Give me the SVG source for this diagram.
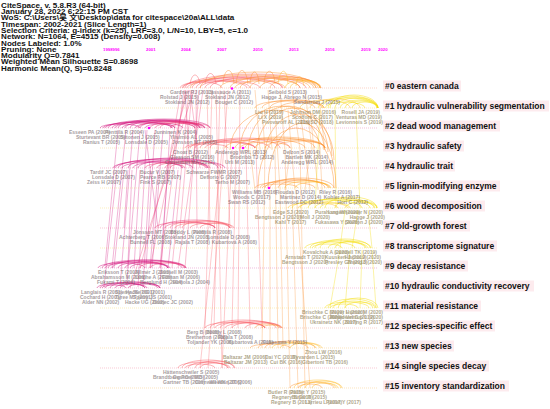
<svg xmlns="http://www.w3.org/2000/svg" width="550" height="409" viewBox="0 0 550 409">
<style>
.h{font:bold 7.2px 'Liberation Sans','Noto Sans CJK SC',Arial,sans-serif;fill:#111}
.yr{font:bold 4.3px 'Liberation Sans',Arial,sans-serif;fill:#ff00ff}
.cl{font:bold 8.5px 'Liberation Sans',Arial,sans-serif;fill:#111}
.bg{fill:#fde6ea;opacity:.8}
.rl{stroke-width:.7;stroke-dasharray:1 1;fill:none}
.a{fill:none;stroke-width:.7;opacity:.65}
.m{stroke:#d2147e}.p{stroke:#ec3470}.r{stroke:#f85a64}.o{stroke:#fd8f2e}.am{stroke:#ffb81e}.yl{stroke:#f3dc00}
.n{font:bold 5px 'Liberation Sans',Arial,sans-serif;fill:#6a5a5e;opacity:.6}
.ny{fill:#7a6c40}
.e{text-anchor:end}
.d{fill:#ff00ff}
</style>
<rect width="550" height="409" fill="#fff"/>

<g id="header" transform="scale(1.12 1)">
<text class="h" x="1" y="7.8">CiteSpace, v. 5.8.R3 (64-bit)</text>
<text class="h" x="1" y="14.1">January 28, 2022 6:22:15 PM CST</text>
<text class="h" x="1" y="20.4">WoS: C:\Users\吴 文\Desktop\data for citespace\20a\ALL\data</text>
<text class="h" x="1" y="26.7">Timespan: 2002-2021 (Slice Length=1)</text>
<text class="h" x="1" y="33">Selection Criteria: g-index (k=25), LRF=3.0, L/N=10, LBY=5, e=1.0</text>
<text class="h" x="1" y="39.3">Network: N=1064, E=4515 (Density=0.008)</text>
<text class="h" x="1" y="45.6">Nodes Labeled: 1.0%</text>
<text class="h" x="1" y="51.9">Pruning: None</text>
<text class="h" x="1" y="58.2">Modularity Q=0.7841</text>
<text class="h" x="1" y="64.5">Weighted Mean Silhouette S=0.8698</text>
<text class="h" x="1" y="70.8">Harmonic Mean(Q, S)=0.8248</text>
</g>

<g id="years">
<text class="yr" x="103" y="51">1998996</text>
<text class="yr" x="146" y="51">2001</text>
<text class="yr" x="181" y="51">2004</text>
<text class="yr" x="217" y="51">2007</text>
<text class="yr" x="253" y="51">2010</text>
<text class="yr" x="289" y="51">2013</text>
<text class="yr" x="325" y="51">2016</text>
<text class="yr" x="361" y="51">2019</text>
<text class="yr" x="378" y="51">2020</text>
</g>

<g id="rows">
<path class="rl" stroke="#f9c0b0" d="M100 88H378"/>
<path class="rl" stroke="#fbe2a0" d="M100 108H378"/>
<path class="rl" stroke="#f2a6c8" d="M100 128H378"/>
<path class="rl" stroke="#f9dca8" d="M100 148H378"/>
<path class="rl" stroke="#f2a8c6" d="M100 168H378"/>
<path class="rl" stroke="#fbe2a0" d="M100 188H378"/>
<path class="rl" stroke="#fbe8a0" d="M100 208H378"/>
<path class="rl" stroke="#f6b2c2" d="M100 228H378"/>
<path class="rl" stroke="#fbe8a0" d="M100 248H378"/>
<path class="rl" stroke="#eaa0d0" d="M100 268H378"/>
<path class="rl" stroke="#f0b0d0" d="M100 288H378"/>
<path class="rl" stroke="#fbe8a0" d="M100 308H378"/>
<path class="rl" stroke="#f8c0b8" d="M100 328H378"/>
<path class="rl" stroke="#fbd8a0" d="M100 348H378"/>
<path class="rl" stroke="#f6b2c2" d="M100 368H378"/>
<path class="rl" stroke="#fbd8a0" d="M100 388H378"/>
</g>

<g id="connectors">
<path class="a m" style="opacity:.45" d="M118 130L105 266M126 130L112 268M133 130L120 286M140 131L128 268M147 130L138 287M155 130L146 268M163 130L152 268M170 131L160 286M117 170L104 287M124 170L114 268M132 170L127 286M140 170L134 268M150 170L143 287M158 170L150 268M168 170L160 268M178 170L168 268M128 170L124 228M145 130L158 228"/>
<path class="a p" style="opacity:.45" d="M181 90L168 168M184 90L160 268M186 90L150 268M189 90L172 268M192 90L180 228M196 90L197 228M199 90L185 268M203 90L178 268M185 90L190 168M190 90L200 168M188 90L140 268M194 90L130 288"/>
<path class="a r" style="opacity:.45" d="M207 90L210 228M212 90L205 328M216 90L222 368M220 90L214 328M224 90L230 228M228 90L208 368M236 150L232 328M246 150L250 328M256 150L262 328M232 150L222 368M222 150L200 368M240 90L238 328"/>
<path class="a o" style="opacity:.45" d="M265 150L262 348M275 150L278 348M285 150L290 388M292 190L298 388M280 190L283 348M300 150L305 388M270 190L270 348M288 110L295 190M275 110L280 190M262 110L265 150M300 110L310 190M310 110L318 190M255 90L260 150M268 90L272 150M280 90L285 150M292 90L300 150M305 90L312 150M318 90L325 150M296 190L310 388M250 150L255 190M290 150L285 190M310 150L305 190M320 150L322 190"/>
<path class="a yl" style="opacity:.5" d="M335 108L336 208M345 210L340 248M358 210L352 248M368 210L372 248M350 250L345 308M362 250L360 308M372 250L376 308M320 110L315 208M356 110L360 208M340 250L330 308"/>
<path class="a r" d="M180 88A40 8 0 0 1 260 88M183 88A50 10 0 0 1 283 88M187 88A30 7 0 0 1 247 88M192 88A45 11 0 0 1 282 88M196 88A55 12 0 0 1 306 88M205 88A35 9 0 0 1 275 88M182 88A20 6 0 0 1 222 88M200 88A25 7 0 0 1 250 88M210 88A45 11 0 0 1 300 88M185 88A68 14 0 0 1 321 88M205 84C207 70 214 70 216 84M190 84C192 72 198 72 200 84"/>
<path class="a o" d="M220 88A40 10 0 0 1 300 88M230 88A45 12 0 0 1 320 88M240 88A35 10 0 0 1 310 88M250 88A35 11 0 0 1 320 88M260 88A28 9 0 0 1 316 88M235 88A25 7 0 0 1 285 88M270 88A24 9 0 0 1 318 88M190 88A62 13 0 0 1 314 88M223 84C224 66 233 66 234 84M236 84C238 66 246 66 248 84M250 84C251 68 258 68 259 84M264 84C265 67 274 67 275 84M200 88A58 16 0 0 1 316 88"/>
<path class="a am" d="M285 88A18 8 0 0 1 321 88M290 88A15 7 0 0 1 320 88M278 84C280 67 287 67 288 84M296 86C297 74 302 74 304 86"/>
<path class="a o" d="M255 108A30 7 0 0 1 315 108M262 108A30 8 0 0 1 322 108M270 108A27 8 0 0 1 324 108M280 108A22 6 0 0 1 324 108"/>
<path class="a am" d="M300 108A25 8 0 0 1 350 108M310 108A25 9 0 0 1 360 108"/>
<path class="a yl" d="M318 108A30 10 0 0 1 378 108M322 108A28 12 0 0 1 378 108M328 108A25 11 0 0 1 378 108M335 108A21 10 0 0 1 377 108M340 108A19 8 0 0 1 378 108M345 108A16 7 0 0 1 377 108M352 108A13 6 0 0 1 378 108M325 108A20 6 0 0 1 365 108M330 108A24 13 0 0 1 378 108"/>
<path class="a m" d="M103 128A40 6 0 0 1 183 128M108 128A45 8 0 0 1 198 128M112 128A30 6 0 0 1 172 128M118 128A46 9 0 0 1 210 128M122 128A25 5 0 0 1 172 128M130 128A35 8 0 0 1 200 128M135 128A20 5 0 0 1 175 128M140 128A30 7 0 0 1 200 128M145 128A15 4 0 0 1 175 128M100 128A20 4 0 0 1 140 128M115 128A40 7 0 0 1 195 128M125 128A40 8 0 0 1 205 128M105 128A50 7 0 0 1 205 128"/>
<path class="a p" d="M150 128A25 6 0 0 1 200 128M155 128A20 5 0 0 1 195 128M160 128A22 6 0 0 1 204 128M138 128A32 7 0 0 1 202 128M170 128A20 5 0 0 1 210 128"/>
<path class="a r" d="M185 148A35 6 0 0 1 255 148M190 148A40 8 0 0 1 270 148M195 148A30 7 0 0 1 255 148M200 148A45 10 0 0 1 290 148M205 148A25 6 0 0 1 255 148M210 148A35 9 0 0 1 280 148M188 148A20 4 0 0 1 228 148"/>
<path class="a o" d="M225 148A40 9 0 0 1 305 148M235 148A45 11 0 0 1 325 148M245 148A35 10 0 0 1 315 148M255 148A35 9 0 0 1 325 148M265 148A30 8 0 0 1 325 148M240 148A25 6 0 0 1 290 148M275 148A25 7 0 0 1 325 148M240 150A42 44 0 0 1 324 150M248 152A40 46 0 0 1 328 152M256 156A38 48 0 0 1 332 156M264 160A35 46 0 0 1 334 160M230 150A45 40 0 0 1 320 150M258 188A38 60 0 0 1 334 188M268 188A34 65 0 0 1 336 188"/>
<path class="a m" d="M113 168A40 7 0 0 1 193 168M118 168A45 9 0 0 1 208 168M122 168A30 6 0 0 1 182 168M128 168A45 10 0 0 1 218 168M133 168A25 6 0 0 1 183 168M138 168A35 8 0 0 1 208 168M115 168A55 9 0 0 1 225 168"/>
<path class="a p" d="M145 168A20 5 0 0 1 185 168M150 168A30 7 0 0 1 210 168M157 168A25 6 0 0 1 207 168M165 168A28 7 0 0 1 221 168M170 168A18 5 0 0 1 206 168"/>
<path class="a o" d="M255 188A30 6 0 0 1 315 188M260 188A35 8 0 0 1 330 188M265 188A30 9 0 0 1 325 188M270 188A32 10 0 0 1 334 188M278 188A25 8 0 0 1 328 188M262 188A18 4 0 0 1 298 188"/>
<path class="a am" d="M285 188A22 7 0 0 1 329 188M295 188A18 6 0 0 1 331 188"/>
<path class="a am" d="M288 208A30 6 0 0 1 348 208M298 208A20 5 0 0 1 338 208"/>
<path class="a yl" d="M292 208A35 8 0 0 1 362 208M300 208A35 9 0 0 1 370 208M308 208A33 10 0 0 1 374 208M315 208A30 8 0 0 1 375 208M325 208A26 11 0 0 1 377 208M335 208A21 8 0 0 1 377 208M345 208A16 6 0 0 1 377 208M320 208A15 5 0 0 1 350 208"/>
<path class="a p" d="M155 228A30 6 0 0 1 215 228M160 228A35 8 0 0 1 230 228M165 228A25 6 0 0 1 215 228"/>
<path class="a r" d="M170 228A30 7 0 0 1 230 228M175 228A20 5 0 0 1 215 228M182 228A25 7 0 0 1 232 228M190 228A20 5 0 0 1 230 228M200 228A17 5 0 0 1 234 228"/>
<path class="a yl" d="M305 248A25 6 0 0 1 355 248M310 248A28 8 0 0 1 366 248M315 248A25 7 0 0 1 365 248M320 248A25 9 0 0 1 370 248M328 248A20 6 0 0 1 368 248M335 248A18 7 0 0 1 371 248M312 248A15 4 0 0 1 342 248"/>
<path class="a m" d="M98 268A35 6 0 0 1 168 268M102 268A40 8 0 0 1 182 268M108 268A30 7 0 0 1 168 268M112 268A37 8 0 0 1 186 268M118 268A25 6 0 0 1 168 268M125 268A30 7 0 0 1 185 268M130 268A20 5 0 0 1 170 268M105 268A20 5 0 0 1 145 268"/>
<path class="a p" d="M140 268A22 6 0 0 1 184 268M150 268A18 5 0 0 1 186 268"/>
<path class="a m" d="M97 288A25 5 0 0 1 147 288M100 288A30 6 0 0 1 160 288M105 288A20 5 0 0 1 145 288M110 288A25 6 0 0 1 160 288M115 288A15 4 0 0 1 145 288M120 288A20 5 0 0 1 160 288M128 288A15 4 0 0 1 158 288M102 288A12 3 0 0 1 126 288"/>
<path class="a yl" d="M325 308A22 6 0 0 1 369 308M328 308A24 9 0 0 1 376 308M333 308A20 7 0 0 1 373 308M338 308A20 10 0 0 1 378 308M345 308A15 6 0 0 1 375 308M330 308A14 4 0 0 1 358 308"/>
<path class="a r" d="M205 328A30 6 0 0 1 265 328M210 328A33 8 0 0 1 276 328M215 328A25 6 0 0 1 265 328M220 328A30 7 0 0 1 280 328M225 328A20 5 0 0 1 265 328M232 328A25 6 0 0 1 282 328M245 328A18 5 0 0 1 281 328"/>
<path class="a o" d="M255 328A12 4 0 0 1 279 328M262 328A10 3 0 0 1 282 328"/>
<path class="a o" d="M250 348A20 4 0 0 1 290 348M258 348A25 6 0 0 1 308 348M265 348A25 7 0 0 1 315 348"/>
<path class="a am" d="M272 348A25 6 0 0 1 322 348M280 348A18 5 0 0 1 316 348M290 348A15 5 0 0 1 320 348"/>
<path class="a r" d="M178 368A25 6 0 0 1 228 368M182 368A26 8 0 0 1 234 368M188 368A20 6 0 0 1 228 368M195 368A20 7 0 0 1 235 368M200 368A15 5 0 0 1 230 368M185 368A15 4 0 0 1 215 368"/>
<path class="a o" d="M290 388A22 6 0 0 1 334 388M298 388A12 4 0 0 1 322 388"/>
<path class="a am" d="M294 388A24 8 0 0 1 342 388M300 388A18 6 0 0 1 336 388M305 388A18 7 0 0 1 341 388M312 388A13 5 0 0 1 338 388"/>
</g>

<g id="node-dots">
<circle class="d" cx="232" cy="88.5" r="1.3"/>
<circle class="d" cx="149" cy="128" r="1.3"/>
<circle class="d" cx="233" cy="148" r="1.2"/>
<circle class="d" cx="243" cy="148" r="1.3"/>
<circle class="d" cx="269" cy="188" r="1.3"/>
</g>

<g id="node-labels" class="n">
<text x="170" y="94.3">Gardner RJ (2013)</text><text x="208" y="94.3">Lassauce A (2011)</text><text class="e" x="307" y="94.3">Seibold S (2013)</text>
<text x="160" y="99.3">Rolstad J (2015)</text><text x="205" y="99.3">Stokland JN (2012)</text><text class="e" x="322" y="99.3">Hagge J, Abrego N (2015)</text>
<text x="165" y="104.3">Stokland JN (2012)</text><text x="215" y="104.3">Bouget C (2012)</text><text class="e" x="340" y="104.3">Sandström J (2015)</text>
<g class="ny">
<text x="255" y="114.3">Liu H (2019)</text><text x="290" y="114.3">Johnson DM (2016)</text><text class="e" x="380" y="114.3">Rosell JA (2019)</text>
<text x="258" y="119.3">Li X (2019)</text><text x="292" y="119.3">Scoffoni C (2017)</text><text class="e" x="382" y="119.3">Venturas MD (2019)</text>
<text x="262" y="124.3">Pivovaroff AL (2016)</text><text x="300" y="124.3">Zhu SD (2018)</text><text class="e" x="383" y="124.3">Levionnois S (2019)</text>
</g>
<text x="69" y="134.3">Esseen PA (2004)</text><text x="105" y="134.3">Penttilä R (2004)</text><text class="e" x="197" y="134.3">Junninen K (2004)</text>
<text x="76" y="139.3">Sturtevant BR (2005)</text><text x="120" y="139.3">Siitonen J (2005)</text><text class="e" x="213" y="139.3">Ylisirniö AL (2005)</text>
<text x="83" y="144.3">Ranius T (2005)</text><text x="125" y="144.3">Lonsdale D (2005)</text><text class="e" x="217" y="144.3">Jönsson MT (2005)</text>
<text x="173" y="154.3">Choat B (2012)</text><text x="215" y="154.3">Anderegg WRL (2013)</text><text class="e" x="320" y="154.3">Delzon S (2014)</text>
<text x="170" y="159.3">Gleason SM (2016)</text><text x="230" y="159.3">Brodribb TJ (2012)</text><text class="e" x="328" y="159.3">Bartlett MK (2014)</text>
<text x="165" y="164.3">Christman MA (2012)</text><text x="225" y="164.3">Urli M (2013)</text><text class="e" x="333" y="164.3">Anderegg WRL (2014)</text>
<text x="90" y="174.3">Tardif JC (2007)</text><text x="140" y="174.3">Bucur V (2007)</text><text class="e" x="242" y="174.3">Schwarze FWMR (2007)</text>
<text x="92" y="179.3">Lonsdale D (2007)</text><text x="140" y="179.3">Pearce RB (2007)</text><text class="e" x="240" y="179.3">Deflorio G (2007)</text>
<text x="87" y="184.3">Zeiss H (2007)</text><text x="140" y="184.3">Fink S (2007)</text><text class="e" x="250" y="184.3">Terho M (2007)</text>
<text x="232" y="194.3">Williams MB (2016)</text><text x="275" y="194.3">Floudas D (2012)</text><text class="e" x="352" y="194.3">Riley R (2016)</text>
<text x="233" y="199.3">Woods C (2017)</text><text x="280" y="199.3">Martinez D (2014)</text><text class="e" x="360" y="199.3">Kohler A (2017)</text>
<text x="228" y="204.3">Swan RS (2012)</text><text x="275" y="204.3">Eastwood DC (2012)</text><text class="e" x="368" y="204.3">Hori C (2012)</text>
<g class="ny">
<text x="273" y="214.3">Edge SJ (2020)</text><text x="315" y="214.3">Purahong W (2020)</text><text class="e" x="383" y="214.3">Lustenhouwer N (2020)</text>
<text x="255" y="219.3">Bengtsson J (2020)</text><text x="300" y="219.3">Moll J (2020)</text><text class="e" x="385" y="219.3">Hagge J (2020)</text>
<text x="275" y="224.3">Kahl T (2017)</text><text x="315" y="224.3">Fukasawa Y (2020)</text><text class="e" x="383" y="224.3">Skelton J (2020)</text>
</g>
<text x="133" y="234.3">Jönsson MT (2005)</text><text x="170" y="234.3">Boddy L (2008)</text><text class="e" x="232" y="234.3">Penttilä R (2008)</text>
<text x="119" y="239.3">Achterberg T (2006)</text><text x="165" y="239.3">Stokland JN (2008)</text><text class="e" x="250" y="239.3">Lonsdale D (2008)</text>
<text x="130" y="244.3">Bunnell FL (2008)</text><text x="175" y="244.3">Rajala T (2008)</text><text class="e" x="257" y="244.3">Kubartová A (2008)</text>
<g class="ny">
<text x="303" y="254.3">Kovalchuk A (2020)</text><text class="e" x="377" y="254.3">Lundell TK (2019)</text>
<text x="285" y="259.3">Arnstadt T (2020)</text><text x="325" y="259.3">Kuuskeri J (2019)</text><text class="e" x="381" y="259.3">Hiscox J (2020)</text>
<text x="282" y="264.3">Bengtsson J (2020)</text><text x="325" y="264.3">Presley GN (2018)</text><text class="e" x="382" y="264.3">Zhang J (2020)</text>
</g>
<text x="98" y="274.3">Eriksson T (2003)</text><text x="135" y="274.3">Allmér J (2003)</text><text class="e" x="198" y="274.3">Jonsell M (2003)</text>
<text x="91" y="279.3">Abrahamsson M (2006)</text><text x="135" y="279.3">Lindhe A (2006)</text><text class="e" x="200" y="279.3">Edman M (2006)</text>
<text x="97" y="284.3">Fukami T (2004)</text><text x="140" y="284.3">Berglund H (2004)</text><text class="e" x="210" y="284.3">Hottola J (2004)</text>
<text x="81" y="294.3">Langlais R (2001)</text><text x="115" y="294.3">Sperry JS (2001)</text><text class="e" x="165" y="294.3">Hacke UG (2001)</text>
<text x="80" y="299.3">Cochard H (2001)</text><text x="115" y="299.3">Tyree MT (2001)</text><text class="e" x="172" y="299.3">Sperry JS (2001)</text>
<text x="82" y="304.3">Alder NN (2002)</text><text x="125" y="304.3">Hacke UG (2002)</text><text class="e" x="193" y="304.3">Domec JC (2002)</text>
<g class="ny">
<text x="302" y="314.3">Brischke C (2020)</text><text x="330" y="314.3">Meyer L (2020)</text><text class="e" x="383" y="314.3">Humar M (2020)</text>
<text x="300" y="319.3">Brischke C (2020)</text><text x="330" y="319.3">Alfredsen G (2019)</text><text class="e" x="383" y="319.3">Meyer-Veltrup L (2020)</text>
<text x="310" y="324.3">Ukrainetz NK (2017)</text><text class="e" x="383" y="324.3">Stirling R (2017)</text>
</g>
<text x="187" y="334.3">Berg B (2008)</text><text x="206" y="334.3">Boddy L (2008)</text>
<text x="186" y="339.3">Bretherton (2008)</text><text class="e" x="253" y="339.3">Rajala T (2008)</text>
<text x="187" y="344.3">Toljander YK (2008)</text><text x="228" y="344.3">Kubartová A (2015)</text><text class="e" x="307" y="344.3">Fukasawa Y (2015)</text>
<g class="ny">
<text x="305" y="354.3">Zhou LW (2016)</text>
<text x="223" y="359.3">Baltazar JM (2006)</text><text x="265" y="359.3">Dai YC (2015)</text><text class="e" x="335" y="359.3">Ryvarden L (2015)</text>
<text x="224" y="364.3">Baltazar JM (2013)</text><text x="270" y="364.3">Cui BK (2016)</text><text class="e" x="348" y="364.3">Gibertoni TB (2016)</text>
</g>
<text x="163" y="374.3">Hättenschwiler S (2005)</text>
<text x="153" y="379.3">Brandtberg PO (2005)</text><text class="e" x="218" y="379.3">Gessner MO (2005)</text>
<text x="163" y="384.3">Gartner TB (2006)</text><text x="195" y="384.3">Cornwell WK (2006)</text><text class="e" x="252" y="384.3">Weedon JT (2006)</text>
<g class="ny">
<text x="268" y="394.3">Butler R (2015)</text><text x="290" y="394.3">Paillet Y (2015)</text>
<text x="272" y="399.3">Regnery B (2015)</text><text class="e" x="327" y="399.3">Bütler R (2015)</text>
<text x="271" y="404.3">Regnery B (2013)</text><text x="305" y="404.3">Larrieu L (2017)</text><text class="e" x="361" y="404.3">Paillet Y (2017)</text>
</g>
</g>

<g id="cluster-0"><rect class="bg" x="383" y="80.5" width="78" height="11"/><text class="cl" x="385" y="88.7">#0 eastern canada</text></g>
<g id="cluster-1"><rect class="bg" x="383" y="100.5" width="166" height="11"/><text class="cl" x="385" y="108.7">#1 hydraulic vulnerability segmentation</text></g>
<g id="cluster-2"><rect class="bg" x="383" y="120.5" width="117" height="11"/><text class="cl" x="385" y="128.7">#2 dead wood management</text></g>
<g id="cluster-3"><rect class="bg" x="383" y="140.5" width="81" height="11"/><text class="cl" x="385" y="148.7">#3 hydraulic safety</text></g>
<g id="cluster-4"><rect class="bg" x="383" y="160.5" width="72" height="11"/><text class="cl" x="385" y="168.7">#4 hydraulic trait</text></g>
<g id="cluster-5"><rect class="bg" x="383" y="180.5" width="117" height="11"/><text class="cl" x="385" y="188.7">#5 lignin-modifying enzyme</text></g>
<g id="cluster-6"><rect class="bg" x="383" y="200.5" width="102" height="11"/><text class="cl" x="385" y="208.7">#6 wood decomposition</text></g>
<g id="cluster-7"><rect class="bg" x="383" y="220.5" width="87" height="11"/><text class="cl" x="385" y="228.7">#7 old-growth forest</text></g>
<g id="cluster-8"><rect class="bg" x="383" y="240.5" width="114" height="11"/><text class="cl" x="385" y="248.7">#8 transcriptome signature</text></g>
<g id="cluster-9"><rect class="bg" x="383" y="260.5" width="85" height="11"/><text class="cl" x="385" y="268.7">#9 decay resistance</text></g>
<g id="cluster-10"><rect class="bg" x="383" y="280.5" width="151" height="11"/><text class="cl" x="385" y="288.7">#10 hydraulic conductivity recovery</text></g>
<g id="cluster-11"><rect class="bg" x="383" y="300.5" width="98" height="11"/><text class="cl" x="385" y="308.7">#11 material resistance</text></g>
<g id="cluster-12"><rect class="bg" x="383" y="320.5" width="112" height="11"/><text class="cl" x="385" y="328.7">#12 species-specific effect</text></g>
<g id="cluster-13"><rect class="bg" x="383" y="340.5" width="71" height="11"/><text class="cl" x="385" y="348.7">#13 new species</text></g>
<g id="cluster-14"><rect class="bg" x="383" y="360.5" width="106" height="11"/><text class="cl" x="385" y="368.7">#14 single species decay</text></g>
<g id="cluster-15"><rect class="bg" x="383" y="380.5" width="126" height="11"/><text class="cl" x="385" y="388.7">#15 inventory standardization</text></g>
</svg>
